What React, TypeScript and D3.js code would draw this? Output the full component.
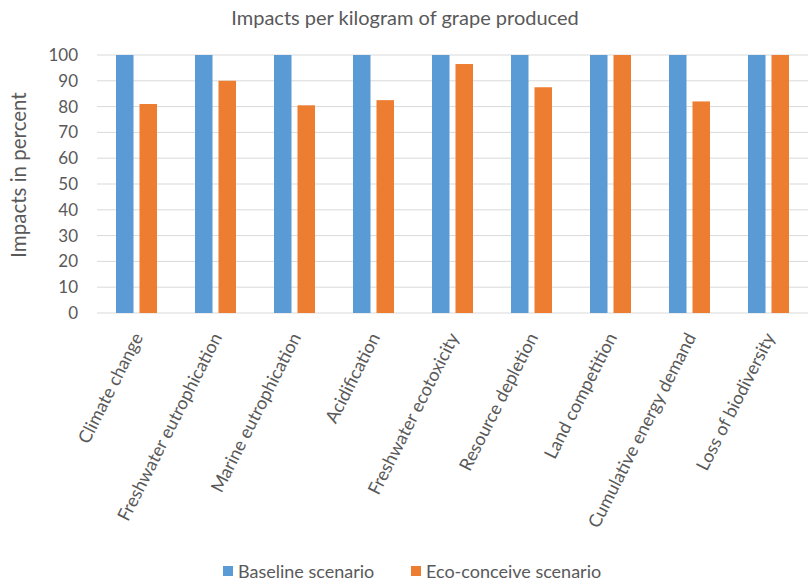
import React from "react";
import * as d3 from "d3";

// values
const categories = [
  "Climate change",
  "Freshwater eutrophication",
  "Marine eutrophication",
  "Acidification",
  "Freshwater ecotoxicity",
  "Resource depletion",
  "Land competition",
  "Cumulative energy demand",
  "Loss of biodiversity",
];
const baseline = [100, 100, 100, 100, 100, 100, 100, 100, 100];
const ecoConceive = [81, 90, 80.5, 82.5, 96.5, 87.5, 100, 82, 100];
const seriesNames = ["Baseline scenario", "Eco-conceive scenario"];
const yTicks = [0, 10, 20, 30, 40, 50, 60, 70, 80, 90, 100];

const colors = ["#5B9BD5", "#ED7D31"];
const font = "Lato, 'Open Sans', sans-serif";

const App: React.FC = () => {
  const width = 811, height = 585;
  const margin = { top: 55, right: 3, bottom: 272, left: 97 };

  const x = d3.scaleBand<string>()
    .domain(categories)
    .range([margin.left, width - margin.right]);
  const y = d3.scaleLinear()
    .domain([0, 100])
    .range([height - margin.bottom, margin.top]);

  const barW = 17.5, gap = 6;
  const series = [baseline, ecoConceive];

  return (
    <svg width={width} height={height} style={{ position: "absolute", left: 0, top: 0, background: "#fff" }}>
      <text x={405} y={25} textAnchor="middle" fontFamily={font} fontSize={20} fill="#595959">
        Impacts per kilogram of grape produced
      </text>

      {/* gridlines */}
      {yTicks.map(t => (
        <line key={t} x1={margin.left} x2={width - margin.right} y1={y(t)} y2={y(t)}
          stroke="#D9D9D9" strokeWidth={1} />
      ))}
      {yTicks.map(t => (
        <text key={"l" + t} x={78} y={y(t)} dy="0.35em" textAnchor="end" fontFamily={font} fontSize={17} fill="#595959">
          {t}
        </text>
      ))}
      <text transform={`translate(26,175) rotate(-90)`} textAnchor="middle"
        fontFamily={font} fontSize={20.5} fill="#595959">
        Impacts in percent
      </text>

      {/* bars */}
      {series.map((vals, si) => (
        <g key={si} fill={colors[si]}>
          {categories.map((c, i) => {
            const cx = x(c)! + x.bandwidth() / 2;
            const bx = si === 0 ? cx - gap / 2 - barW : cx + gap / 2;
            return <rect key={c} x={bx} y={y(vals[i])} width={barW} height={y(0) - y(vals[i])} />;
          })}
        </g>
      ))}

      {/* category labels */}
      {categories.map(c => {
        const cx = x(c)! + x.bandwidth() / 2;
        return (
          <text key={c} transform={`translate(${cx + 7},${y(0) + 24}) rotate(-63)`} textAnchor="end"
            fontFamily={font} fontSize={18} fill="#595959">
            {c}
          </text>
        );
      })}

      {/* legend */}
      {seriesNames.map((n, i) => {
        const lx = i === 0 ? 223 : 411;
        return (
          <g key={n}>
            <rect x={lx} y={566} width={10} height={10} fill={colors[i]} />
            <text x={lx + 15} y={578} fontFamily={font} fontSize={18} fill="#595959">{n}</text>
          </g>
        );
      })}
    </svg>
  );
};

export default App;
